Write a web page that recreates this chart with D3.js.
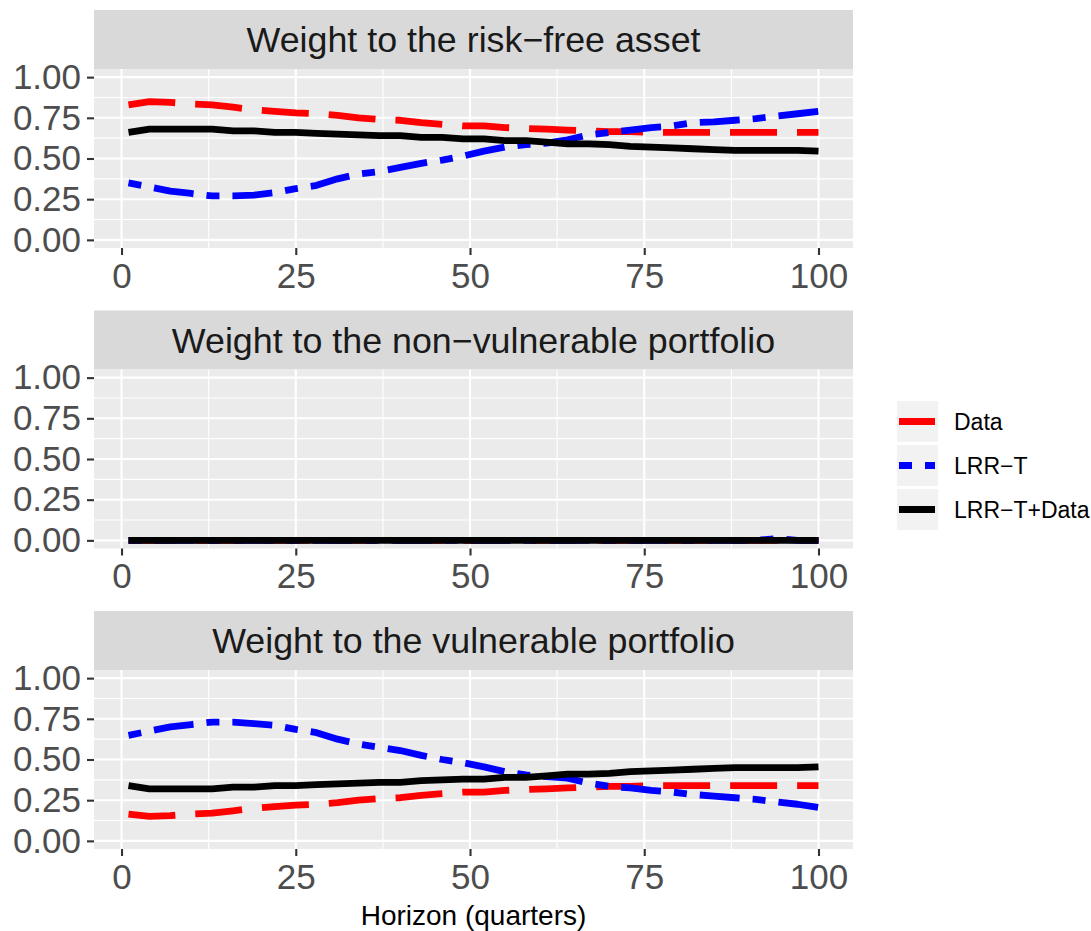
<!DOCTYPE html>
<html><head><meta charset="utf-8">
<script src="https://cdn.jsdelivr.net/npm/d3@7"></script>
<style>
body{margin:0;background:#fff}
svg{display:block}
text{font-family:"Liberation Sans",Arial,Helvetica,sans-serif}
</style>
</head><body>
<svg id="chart" width="1091" height="931"></svg>
<script>
// ---- data ----
const quarters = [1,4,7,10,13,16,19,22,25,28,31,34,37,40,43,46,49,52,55,58,61,64,67,70,73,76,79,82,85,88,91,94,97,100];
const panelTitles = ["Weight to the risk\u2212free asset","Weight to the non\u2212vulnerable portfolio","Weight to the vulnerable portfolio"];
const seriesNames = ["Data","LRR\u2212T","LRR\u2212T+Data"];
const seriesColors = ["#FF0000","#0000FF","#000000"];
const seriesDash = ["47,20","13,13,40,13",null];

const riskFreeData     = [.83,.85,.845,.835,.83,.815,.80,.79,.78,.775,.765,.75,.74,.735,.72,.71,.70,.70,.69,.685,.68,.675,.67,.665,.665,.66,.66,.66,.66,.66,.66,.66,.66,.66];
const riskFreeLRRT     = [.35,.325,.30,.285,.27,.27,.275,.29,.315,.335,.375,.405,.42,.445,.47,.49,.515,.545,.57,.585,.595,.615,.645,.66,.675,.69,.70,.72,.725,.735,.745,.76,.775,.79];
const riskFreeCombined = [.66,.68,.68,.68,.68,.67,.67,.66,.66,.655,.65,.645,.64,.64,.63,.63,.62,.62,.61,.61,.60,.59,.59,.585,.575,.57,.565,.56,.555,.55,.55,.55,.55,.545];

const nonVulnData      = [0,0,0,0,0,0,0,0,0,0,0,0,0,0,0,0,0,0,0,0,0,0,0,0,0,0,0,0,0,0,0,0,0,0];
const nonVulnLRRT      = [0,0,0,0,0,0,0,0,0,0,0,0,0,0,0,0,0,0,0,0,0,0,0,0,0,0,0,0,0,0,0,0.01,0,0];
const nonVulnCombined  = [0,0,0,0,0,0,0,0,0,0,0,0,0,0,0,0,0,0,0,0,0,0,0,0,0,0,0,0,0,0,0,0,0,0];

const vulnData         = [.165,.15,.155,.165,.17,.185,.20,.21,.22,.225,.235,.25,.26,.265,.28,.29,.30,.30,.31,.315,.32,.325,.33,.335,.335,.34,.34,.34,.34,.34,.34,.34,.34,.34];
const vulnLRRT         = [.648,.675,.70,.715,.73,.73,.72,.71,.685,.665,.625,.595,.575,.555,.525,.50,.48,.455,.425,.405,.395,.385,.355,.335,.325,.31,.30,.285,.275,.265,.255,.24,.225,.205];
const vulnCombined     = [.34,.32,.32,.32,.32,.33,.33,.34,.34,.345,.35,.355,.36,.36,.37,.375,.38,.38,.39,.39,.40,.41,.41,.415,.425,.43,.435,.44,.445,.45,.45,.45,.45,.455];

const xTicks = [0,25,50,75,100];
const xMinor = [12.5,37.5,62.5,87.5];
const yTicks = [0,0.25,0.5,0.75,1];
const yTickLabels = ["0.00","0.25","0.50","0.75","1.00"];
const yMinor = [0.125,0.375,0.625,0.875];
const xTitle = "Horizon (quarters)";

const panelSeries = [
  [riskFreeData, riskFreeLRRT, riskFreeCombined],
  [nonVulnData, nonVulnLRRT, nonVulnCombined],
  [vulnData, vulnLRRT, vulnCombined]
];

// ---- layout ----
const svg = d3.select("#chart");
const left = 94, right = 853;
const stripH = 59, panelH = 179, step = 300.5, top0 = 10;
const lineW = 6.8;
const drawOrder = [0,1,2];

const xr = d3.extent(quarters), xpad = (xr[1]-xr[0])*0.05;
const x = d3.scaleLinear().domain([xr[0]-xpad, xr[1]+xpad]).range([left, right]);

panelTitles.forEach((title, i) => {
  const sTop = top0 + step*i;
  const pTop = sTop + stripH, pBot = pTop + panelH;
  const y = d3.scaleLinear().domain([-0.05, 1.05]).range([pBot, pTop]);
  const g = svg.append("g");

  // strip
  g.append("rect").attr("x", left).attr("y", sTop).attr("width", right-left).attr("height", stripH).attr("fill", "#D9D9D9");
  g.append("text").attr("x", (left+right)/2).attr("y", sTop + stripH/2).attr("dy", "0.36em")
    .attr("text-anchor", "middle").attr("font-size", 35.8).attr("fill", "#1A1A1A").text(title);

  // panel bg
  g.append("rect").attr("x", left).attr("y", pTop).attr("width", right-left).attr("height", panelH).attr("fill", "#EBEBEB");

  // grid
  const grid = g.append("g");
  yMinor.forEach(v => grid.append("line").attr("x1", left).attr("x2", right).attr("y1", y(v)).attr("y2", y(v)).attr("stroke", "#fff").attr("stroke-width", 1.1));
  xMinor.forEach(v => grid.append("line").attr("y1", pTop).attr("y2", pBot).attr("x1", x(v)).attr("x2", x(v)).attr("stroke", "#fff").attr("stroke-width", 1.1));
  yTicks.forEach(v => grid.append("line").attr("x1", left).attr("x2", right).attr("y1", y(v)).attr("y2", y(v)).attr("stroke", "#fff").attr("stroke-width", 2.1));
  xTicks.forEach(v => grid.append("line").attr("y1", pTop).attr("y2", pBot).attr("x1", x(v)).attr("x2", x(v)).attr("stroke", "#fff").attr("stroke-width", 2.1));

  // axes
  const yAxis = d3.axisLeft(y).tickValues(yTicks).tickFormat((d, k) => yTickLabels[k]).tickSize(7).tickPadding(6);
  const ya = g.append("g").attr("transform", `translate(${left},0)`).call(yAxis);
  const xAxis = d3.axisBottom(x).tickValues(xTicks).tickFormat(d3.format("d")).tickSize(7).tickPadding(8);
  const xa = g.append("g").attr("transform", `translate(0,${pBot})`).call(xAxis);
  [ya, xa].forEach(a => {
    a.select(".domain").remove();
    a.selectAll(".tick line").attr("stroke", "#333333").attr("stroke-width", 2.1);
    a.selectAll(".tick text").attr("fill", "#4D4D4D").attr("font-size", 35).attr("font-family", '"Liberation Sans",Arial,sans-serif');
  });

  // lines
  const clipId = "clip" + i;
  g.append("clipPath").attr("id", clipId).append("rect").attr("x", left).attr("y", pTop).attr("width", right-left).attr("height", panelH);
  const lg = g.append("g").attr("clip-path", `url(#${clipId})`);
  const line = d3.line().x((d, k) => x(quarters[k])).y(d => y(d));
  drawOrder.forEach(s => {
    const p = lg.append("path").datum(panelSeries[i][s]).attr("d", line)
      .attr("fill", "none").attr("stroke", seriesColors[s]).attr("stroke-width", lineW)
      .attr("stroke-linecap", "butt").attr("stroke-linejoin", "round");
    if (seriesDash[s]) p.attr("stroke-dasharray", seriesDash[s]);
  });
});

// x title
svg.append("text").attr("x", (left+right)/2).attr("y", 925).attr("text-anchor", "middle")
  .attr("font-size", 28).attr("fill", "#000").text(xTitle);

// legend
const keyX = 897, keyY0 = 401, keySize = 41, keyGap = 3;
seriesNames.forEach((name, s) => {
  const ky = keyY0 + s*(keySize+keyGap);
  svg.append("rect").attr("x", keyX).attr("y", ky).attr("width", keySize).attr("height", keySize).attr("fill", "#F2F2F2");
  const l = svg.append("line").attr("x1", keyX+2).attr("x2", keyX+keySize-3).attr("y1", ky+keySize/2).attr("y2", ky+keySize/2)
    .attr("stroke", seriesColors[s]).attr("stroke-width", lineW).attr("stroke-linecap", "butt");
  if (seriesDash[s]) l.attr("stroke-dasharray", seriesDash[s]);
  svg.append("text").attr("x", 954).attr("y", ky+keySize/2).attr("dy", "0.36em")
    .attr("font-size", 23).attr("fill", "#000").text(name);
});
</script>
</body></html>
